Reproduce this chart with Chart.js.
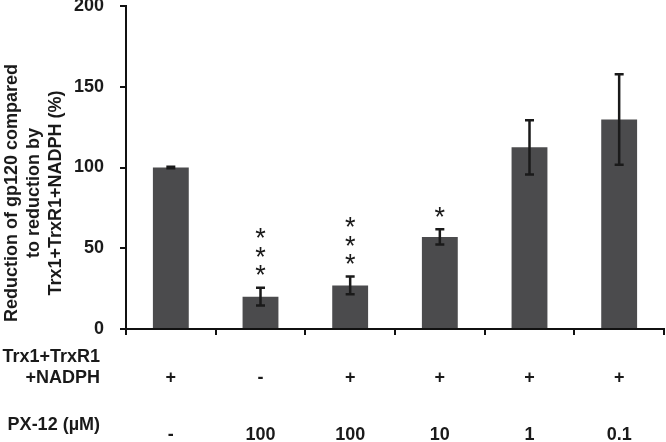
<!DOCTYPE html>
<html>
<head>
<meta charset="utf-8">
<script src="https://cdn.jsdelivr.net/npm/chart.js@4.4.1/dist/chart.umd.min.js"></script>
<style>
  html, body { margin: 0; padding: 0; background: #fff; }
  canvas { display: block; }
</style>
</head>
<body>
<canvas id="chart" width="666" height="442"></canvas>
<script>
'use strict';

// ─── Datos ───────────────────────────────────────────────────────────────────

const trxRow   = ['+', '-', '+', '+', '+', '+'];
const px12Row  = ['-', '100', '100', '10', '1', '0.1'];
const valores  = [100, 20, 27, 57, 112.5, 129.7];
const errores  = [0.5, 5.5, 5.5, 4.7, 16.8, 28];
const estrellas = [0, 3, 3, 1, 0, 0];
const yTicks   = [0, 50, 100, 150, 200];
const yTitulo  = ['Reduction of gp120 compared', 'to reduction by', 'Trx1+TrxR1+NADPH (%)'];

// ─── Estilo ──────────────────────────────────────────────────────────────────

const C = {
  bar:  '#4b4b4d',
  ink:  '#1a1a1a',
  axis: '#111111',
};
const FONT = "'Liberation Sans', Arial, sans-serif";

// ─── Plugin: barras de error, asteriscos, titulo y tabla inferior ───────────

const extras = {
  id: 'extras',
  afterDatasetsDraw(chart) {
    const ctx = chart.ctx;
    const y = chart.scales.y;
    const x = chart.scales.x;
    const meta = chart.getDatasetMeta(0);

    // barras de error
    ctx.save();
    ctx.strokeStyle = C.ink;
    ctx.lineWidth = 2.5;
    meta.data.forEach(function(bar, i) {
      const top = y.getPixelForValue(valores[i] + errores[i]);
      const bot = y.getPixelForValue(valores[i] - errores[i]);
      ctx.beginPath();
      ctx.moveTo(bar.x, top);
      ctx.lineTo(bar.x, bot);
      ctx.moveTo(bar.x - 4.5, top);
      ctx.lineTo(bar.x + 4.5, top);
      ctx.moveTo(bar.x - 4.5, bot);
      ctx.lineTo(bar.x + 4.5, bot);
      ctx.stroke();

      // asteriscos
      if (estrellas[i] > 0) {
        ctx.fillStyle = C.ink;
        ctx.font = '27px ' + FONT;
        ctx.textAlign = 'center';
        ctx.textBaseline = 'alphabetic';
        const m = ctx.measureText('*');
        const mid = (m.actualBoundingBoxAscent - m.actualBoundingBoxDescent) / 2;
        for (let k = 0; k < estrellas[i]; k++) {
          const cy = top - 17.5 - k * 18.5;
          ctx.fillText('*', bar.x, cy + mid);
        }
      }
    });
    ctx.restore();

    // titulo del eje y
    ctx.save();
    ctx.fillStyle = C.ink;
    ctx.font = 'bold 18px ' + FONT;
    ctx.textAlign = 'center';
    ctx.textBaseline = 'middle';
    const colX = [12, 34.5, 56];
    yTitulo.forEach(function(line, i) {
      ctx.save();
      ctx.translate(colX[i], 193);
      ctx.rotate(-Math.PI / 2);
      ctx.fillText(line, 0, 0);
      ctx.restore();
    });
    ctx.restore();

    // tabla de condiciones bajo el eje x
    ctx.save();
    ctx.fillStyle = C.ink;
    ctx.font = 'bold 18px ' + FONT;
    ctx.textBaseline = 'middle';
    ctx.textAlign = 'right';
    ctx.fillText('Trx1+TrxR1', 100, 357);
    ctx.fillText('+NADPH', 100, 378);
    ctx.fillText('PX-12 (\u00b5M)', 100, 425);
    ctx.textAlign = 'center';
    trxRow.forEach(function(t, i) {
      ctx.fillText(t, x.getPixelForValue(i), 378);
    });
    px12Row.forEach(function(t, i) {
      ctx.fillText(t, x.getPixelForValue(i), 435);
    });
    ctx.restore();
  },
};

// ─── Grafica ─────────────────────────────────────────────────────────────────

new Chart(document.getElementById('chart').getContext('2d'), {
  type: 'bar',
  data: {
    labels: px12Row.map(function(p, i) { return trxRow[i] + ' ' + p; }),
    datasets: [{
      data: valores,
      backgroundColor: C.bar,
      borderWidth: 0,
      barPercentage: 0.4,
      categoryPercentage: 1,
    }],
  },
  options: {
    responsive: false,
    animation: false,
    layout: { padding: { top: 6, right: 2, left: 0, bottom: 0 } },
    plugins: { legend: { display: false }, tooltip: { enabled: false } },
    scales: {
      x: {
        offset: true,
        grid: { offset: true, drawOnChartArea: false, drawTicks: true, tickLength: 6, color: C.axis, lineWidth: 2 },
        border: { color: C.axis, width: 2 },
        ticks: { display: false },
        afterFit: function(s) { s.height = 442 - 329; s.paddingLeft = 0; s.paddingRight = 0; },
      },
      y: {
        min: 0,
        max: 200,
        afterBuildTicks: function(s) { s.ticks = yTicks.map(function(v) { return { value: v }; }); },
        grid: { drawOnChartArea: false, drawTicks: true, tickLength: 6, color: C.axis, lineWidth: 2 },
        border: { color: C.axis, width: 2 },
        ticks: { color: C.ink, font: { family: FONT, size: 18, weight: 'bold' }, padding: 16 },
        afterFit: function(s) { s.width = 126; s.paddingTop = 0; s.paddingBottom = 0; },
      },
    },
  },
  plugins: [extras],
});
</script>
</body>
</html>
